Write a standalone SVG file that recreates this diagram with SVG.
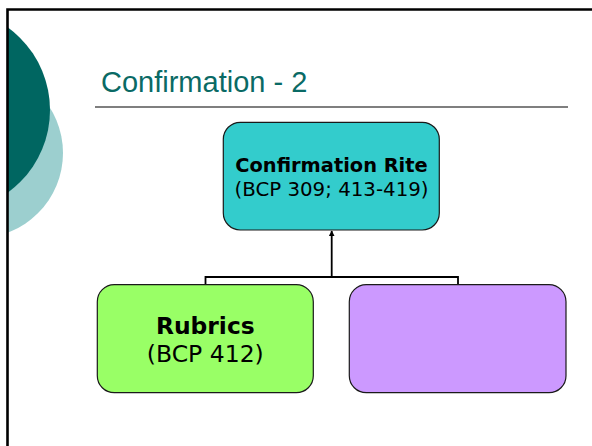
<svg xmlns="http://www.w3.org/2000/svg" width="592" height="446" viewBox="0 0 592 446">
<style>
.box{stroke:#1a1a1a;stroke-width:1.2}
.b{font-family:"DejaVu Sans",Verdana,sans-serif;font-weight:bold;fill:#000;text-anchor:middle}
.r{font-family:"DejaVu Sans",Verdana,sans-serif;fill:#000;text-anchor:middle}
.conn{stroke:#000;stroke-width:1.8;fill:none}
</style>
<defs>
<clipPath id="frame"><rect x="8" y="10" width="584" height="436"/></clipPath>
<marker id="arr" viewBox="0 0 10 10" refX="9" refY="5" markerWidth="3.2" markerHeight="3.2" orient="auto"><path d="M0,0 L10,5 L0,10 z" fill="#000"/></marker>
</defs>
<rect width="592" height="446" fill="#fff"/>
<g id="decor" clip-path="url(#frame)">
<circle cx="-22" cy="153" r="85" fill="#9ccfcf"/>
<circle cx="-52" cy="110" r="102" fill="#006661"/>
</g>
<path d="M7.5,446 V9.5 H592" fill="none" stroke="#000" stroke-width="2.6"/>
<g id="title">
<text x="101" y="92" font-family="Liberation Sans,Arial,sans-serif" font-size="29" fill="#0a6a65">Confirmation - 2</text>
<line x1="95" y1="107" x2="568" y2="107" stroke="#555" stroke-width="1.4"/>
</g>
<g id="connectors">
<path class="conn" d="M205.5,284 V277 H458 V284"/>
<path class="conn" d="M331.7,277 V231" marker-end="url(#arr)"/>
</g>
<g id="rite">
<rect class="box" x="223.3" y="122.3" width="216" height="107.7" rx="17" fill="#33cccc"/>
<text class="b" x="331.5" y="171.5" font-size="19.4">Confirmation Rite</text>
<text class="r" x="331.5" y="196" font-size="19.8">(BCP 309; 413-419)</text>
</g>
<g id="rubrics">
<rect class="box" x="97.3" y="284.7" width="216" height="108" rx="17" fill="#99ff66"/>
<text class="b" x="205.3" y="334" font-size="23.4">Rubrics</text>
<text class="r" x="205.3" y="362" font-size="23.5">(BCP 412)</text>
</g>
<g id="blank">
<rect class="box" x="349.3" y="284.7" width="216.7" height="108" rx="17" fill="#cc99ff"/>
</g>
</svg>
